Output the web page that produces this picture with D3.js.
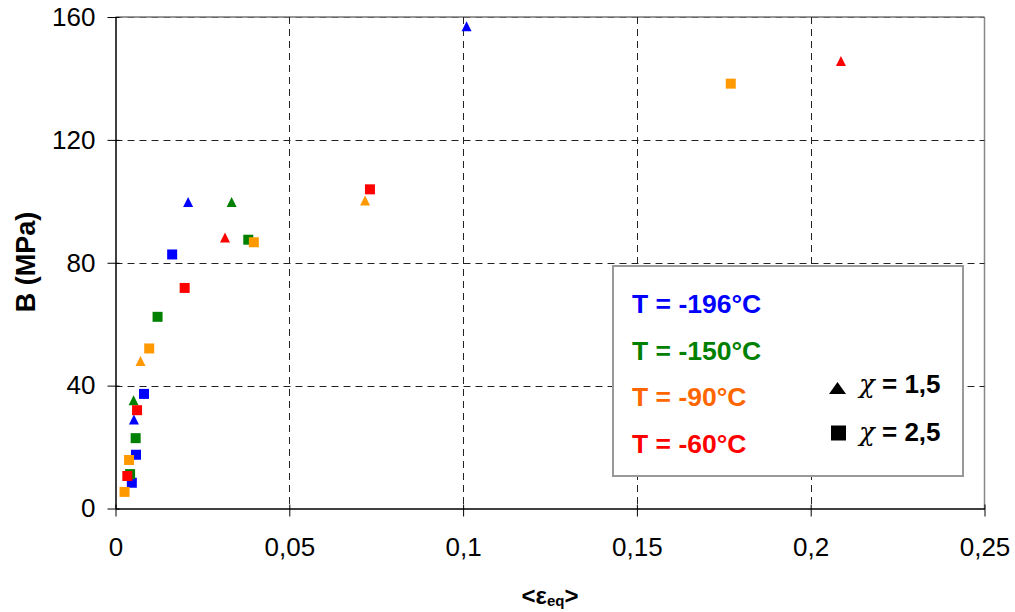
<!DOCTYPE html>
<html>
<head>
<meta charset="utf-8">
<script src="https://cdn.jsdelivr.net/npm/d3@7"></script>
<style>
  html, body { margin: 0; padding: 0; background: #fff; }
  svg { display: block; font-family: "Liberation Sans", Arial, sans-serif; }
</style>
</head>
<body>
<svg id="chart" width="1015" height="612"></svg>
<script>
// ---- data ----
const xTicks = [0, 0.05, 0.1, 0.15, 0.2, 0.25];
const xTickLabels = ["0", "0,05", "0,1", "0,15", "0,2", "0,25"];
const yTicks = [0, 40, 80, 120, 160];
const yTickLabels = ["0", "40", "80", "120", "160"];

const seriesNames = ["T = -196°C", "T = -150°C", "T = -90°C", "T = -60°C"];
const seriesMarkerColors = ["#0000FF", "#008000", "#FF9900", "#FF0000"];
const seriesTextColors = ["#0000FF", "#008000", "#FF6600", "#FF0000"];

// χ = 1,5 (triangles)  [strain, B]
const tri196 = [[0.0053, 29.0], [0.0209, 99.8], [0.101, 157.0]];
const tri150 = [[0.0052, 35.2], [0.0334, 99.8]];
const tri90  = [[0.0072, 48.0], [0.0718, 100.3]];
const tri60  = [[0.0315, 88.2], [0.2087, 145.7]];
// χ = 2,5 (squares)
const sq196 = [[0.0047, 8.4], [0.0059, 17.5], [0.0082, 37.3], [0.0163, 82.7]];
const sq150 = [[0.0042, 11.2], [0.0058, 22.9], [0.0121, 62.4], [0.0382, 87.5]];
const sq90  = [[0.0026, 5.4], [0.0039, 15.8], [0.0097, 52.1], [0.0398, 86.7], [0.177, 138.3]];
const sq60  = [[0.0034, 10.6], [0.0062, 32.0], [0.0199, 71.8], [0.0732, 103.9]];

const triSets = [tri196, tri150, tri90, tri60];
const sqSets = [sq196, sq150, sq90, sq60];
const shapeLabels = ["1,5", "2,5"];

// ---- layout ----
const svg = d3.select("#chart");
const L = 115.5, R = 984.5, T = 17, B = 508.5;
const x = d3.scaleLinear().domain([0, 0.25]).range([L, R]);
const y = d3.scaleLinear().domain([0, 160]).range([B, T]);

// plot frame (top + right gray)
svg.append("line").attr("x1", L).attr("x2", R).attr("y1", T).attr("y2", T)
  .attr("stroke", "#999").attr("stroke-width", 2);
svg.append("line").attr("x1", R).attr("x2", R).attr("y1", T).attr("y2", B)
  .attr("stroke", "#888").attr("stroke-width", 1.5);

// gridlines
const grid = svg.append("g");
grid.selectAll("line.h").data(yTicks.filter(d => d > 0)).join("line")
  .attr("x1", L).attr("x2", R)
  .attr("y1", d => Math.round(y(d)) + 0.5).attr("y2", d => Math.round(y(d)) + 0.5)
  .attr("stroke", d => d === 160 ? "#666" : "#222").attr("stroke-width", 1)
  .attr("stroke-dasharray", "7,5");
grid.selectAll("line.v").data(xTicks.filter(d => d > 0 && d < 0.25)).join("line")
  .attr("x1", d => Math.round(x(d)) + 0.5).attr("x2", d => Math.round(x(d)) + 0.5)
  .attr("y1", T).attr("y2", B)
  .attr("stroke", "#222").attr("stroke-width", 1)
  .attr("stroke-dasharray", "7,5");

// axes
const xAxis = d3.axisBottom(x).tickValues(xTicks)
  .tickFormat((d, i) => xTickLabels[i]).tickSizeInner(8).tickSizeOuter(0).tickPadding(21);
const gx = svg.append("g").attr("transform", `translate(0,${B})`).call(xAxis);
gx.select(".domain").attr("stroke", "#000").attr("stroke-width", 1.5);
gx.selectAll(".tick line").attr("stroke", "#000").attr("y1", -4).attr("y2", 8);
gx.selectAll("text").attr("font-size", 26).attr("fill", "#000")
  .attr("font-family", "Liberation Sans, Arial, sans-serif");

const yAxis = d3.axisLeft(y).tickValues(yTicks)
  .tickFormat((d, i) => yTickLabels[i]).tickSizeInner(8).tickSizeOuter(0).tickPadding(12);
const gy = svg.append("g").attr("transform", `translate(${L},0)`).call(yAxis);
gy.select(".domain").attr("stroke", "#000").attr("stroke-width", 1.5);
gy.selectAll(".tick line").attr("stroke", "#000").attr("x1", 4).attr("x2", -8);
gy.selectAll("text").attr("font-size", 26).attr("fill", "#000")
  .attr("font-family", "Liberation Sans, Arial, sans-serif");

// axis titles
svg.append("text")
  .attr("transform", "translate(35,262) rotate(-90)")
  .attr("text-anchor", "middle").attr("font-weight", "bold").attr("font-size", 27)
  .text("B (MPa)");

const xt = svg.append("text").attr("x", 550).attr("y", 604)
  .attr("text-anchor", "middle").attr("font-weight", "bold").attr("font-size", 24);
xt.append("tspan").text("<ε");
xt.append("tspan").attr("font-size", 15).attr("dy", 2).text("eq");
xt.append("tspan").attr("dy", -2).text(">");

// marker paths (bbox-centred)
function triPath(cx, cy, w, h) {
  return `M${cx},${cy - h / 2}L${cx + w / 2},${cy + h / 2}L${cx - w / 2},${cy + h / 2}Z`;
}
function sqPath(cx, cy, s) {
  return `M${cx - s / 2},${cy - s / 2}h${s}v${s}h${-s}Z`;
}

const marks = svg.append("g");
seriesNames.forEach((name, i) => {
  const g = marks.append("g");
  g.selectAll("path.tri").data(triSets[i]).join("path")
    .attr("d", d => triPath(x(d[0]), y(d[1]), 10, 10))
    .attr("fill", seriesMarkerColors[i]);
  g.selectAll("path.sq").data(sqSets[i]).join("path")
    .attr("d", d => sqPath(x(d[0]), y(d[1]), 10))
    .attr("fill", seriesMarkerColors[i]);
});

// legend
const lg = svg.append("g");
lg.append("rect").attr("x", 613).attr("y", 266).attr("width", 350).attr("height", 210)
  .attr("fill", "#fff").attr("stroke", "#999").attr("stroke-width", 2);
seriesNames.forEach((name, i) => {
  lg.append("text").attr("x", 632).attr("y", 313 + i * 46.7)
    .attr("font-weight", "bold").attr("font-size", 26.5)
    .attr("fill", seriesTextColors[i]).text(name);
});
// shape legend
lg.append("path").attr("d", triPath(837.5, 388, 17, 12)).attr("fill", "#000");
lg.append("path").attr("d", sqPath(838.5, 433, 15)).attr("fill", "#000");
[393, 441].forEach((yy, i) => {
  const t = lg.append("text").attr("x", 859).attr("y", yy)
    .attr("font-weight", "bold").attr("font-size", 26).attr("fill", "#000");
  t.append("tspan").attr("font-style", "italic").attr("font-weight", "normal")
    .attr("font-family", "DejaVu Serif, serif").text("χ");
  t.append("tspan").text(" = " + shapeLabels[i]);
});
</script>
</body>
</html>
